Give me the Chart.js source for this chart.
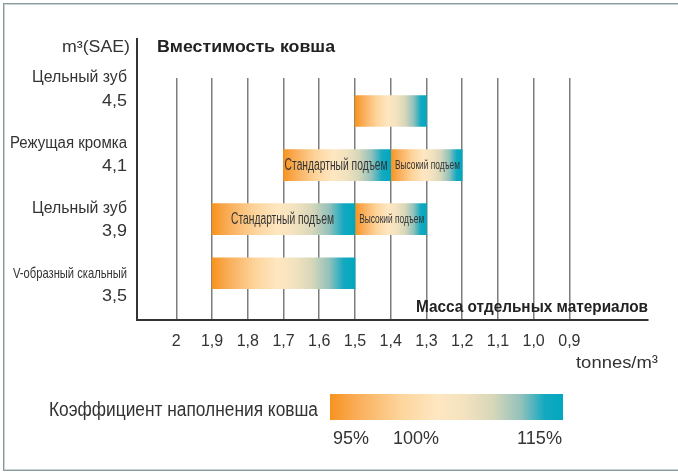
<!DOCTYPE html>
<html>
<head>
<meta charset="utf-8">
<script src="https://cdn.jsdelivr.net/npm/chart.js@4.4.1/dist/chart.umd.min.js"></script>
<style>
  html, body { margin: 0; padding: 0; background: #fff; }
  canvas { display: block; }
</style>
</head>
<body>
<canvas id="myChart" width="678" height="473"></canvas>
<script>
// Rows of the chart, top to bottom
const rowNames = ["Цельный зуб", "Режущая кромка", "Цельный зуб", "V-образный скальный"];
const rowCapacity = ["4,5", "4,1", "3,9", "3,5"];

// Material density ranges (tonnes/m3), [from, to]
const standardRanges = [[1.5, 1.3], [1.7, 1.4], [1.9, 1.5], [1.9, 1.5]];
const standardText = ["", "Стандартный подъем", "Стандартный подъем", ""];
const highRanges = [null, [1.4, 1.2], [1.5, 1.3], null];
const highText = ["", "Высокий подъем", "Высокий подъем", ""];

// X axis ticks
const tickValues = [2, 1.9, 1.8, 1.7, 1.6, 1.5, 1.4, 1.3, 1.2, 1.1, 1.0, 0.9];
const tickLabels = ["2", "1,9", "1,8", "1,7", "1,6", "1,5", "1,4", "1,3", "1,2", "1,1", "1,0", "0,9"];

// Fill factor key
const fillLabels = ["95%", "100%", "115%"];

const FONT = "'Liberation Sans', Arial, sans-serif";
const TEXT = "#333";

const gradStops = [
  [0.00, "#f7931e"],
  [0.10, "#f9aa52"],
  [0.30, "#fdd49b"],
  [0.46, "#fee7c1"],
  [0.58, "#f3e2bf"],
  [0.70, "#d7d7ba"],
  [0.82, "#92c1bc"],
  [0.92, "#14a9c0"],
  [1.00, "#00a7c0"],
];

function makeGradient(ctx, x0, x1) {
  const g = ctx.createLinearGradient(x0, 0, x1, 0);
  gradStops.forEach(s => g.addColorStop(s[0], s[1]));
  return g;
}

function barFill(c) {
  const x = c.chart.scales.x;
  if (!x || !c.raw || !c.chart.chartArea) return "#f7931e";
  const a = x.getPixelForValue(c.raw.x[0]);
  const b = x.getPixelForValue(c.raw.x[1]);
  if (!isFinite(a) || !isFinite(b)) return "#f7931e";
  return makeGradient(c.chart.ctx, Math.min(a, b), Math.max(a, b));
}

function toPoints(ranges) {
  return ranges.map((r, i) => r ? { x: r, y: i } : null).filter(p => p);
}

function fitText(ctx, text, x, y, w, font, align, color) {
  ctx.save();
  ctx.font = font;
  ctx.fillStyle = color || TEXT;
  ctx.textAlign = align || "left";
  ctx.textBaseline = "middle";
  const m = ctx.measureText(text).width;
  const s = w ? w / m : 1;
  ctx.translate(x, y);
  ctx.scale(s, 1);
  ctx.fillText(text, 0, 0);
  ctx.restore();
}

// frame and white background
const framePlugin = {
  id: "frame",
  beforeDraw(chart) {
    const ctx = chart.ctx;
    ctx.save();
    ctx.fillStyle = "#fff";
    ctx.fillRect(0, 0, chart.width, chart.height);
    ctx.strokeStyle = "#8a9999";
    ctx.lineWidth = 1;
    ctx.strokeRect(3.5, 3.5, 700, 467);
    ctx.strokeStyle = "#c9d3d3";
    ctx.strokeRect(4.5, 4.5, 700, 465);
    ctx.restore();
  },
};

// texts inside bars
const barTextPlugin = {
  id: "barText",
  afterDatasetsDraw(chart) {
    const ctx = chart.ctx;
    chart.data.datasets.forEach((ds, di) => {
      const meta = chart.getDatasetMeta(di);
      meta.data.forEach((bar, j) => {
        const row = ds.data[j].y;
        const t = ds.texts[row];
        if (!t) return;
        const cx = (bar.x + bar.base) / 2;
        if (di === 0) fitText(ctx, t, cx - 1, bar.y + 0.5, 103, "16px " + FONT, "center");
        else fitText(ctx, t, cx + 1, bar.y + 0.5, 65, "13px " + FONT, "center");
      });
    });
  },
};

// axis line, titles, row labels and fill factor key
const decorPlugin = {
  id: "decor",
  afterDraw(chart) {
    const ctx = chart.ctx;
    const area = chart.chartArea;
    ctx.save();
    ctx.strokeStyle = "#333";
    ctx.lineWidth = 2;
    ctx.beginPath();
    ctx.moveTo(area.left, 38);
    ctx.lineTo(area.left, area.bottom + 1);
    ctx.stroke();
    ctx.restore();

    fitText(ctx, "m³(SAE)", 130, 48, 68, "16px " + FONT, "right");
    fitText(ctx, "Вместимость ковша", 157, 48, 178, "bold 16px " + FONT, "left", "#222");
    fitText(ctx, "Масса отдельных материалов", 648, 307, 232, "bold 17px " + FONT, "right", "#222");
    fitText(ctx, "tonnes/m³", 658, 363, 82, "17px " + FONT, "right");

    const nameW = [95, 117, 95, 114];
    const nameF = [16, 16, 16, 15];
    rowNames.forEach((n, i) => {
      fitText(ctx, n, 127, 78 + i * 65.3, nameW[i], nameF[i] + "px " + FONT, "right");
      fitText(ctx, rowCapacity[i], 127, 101 + i * 65, 25, "17px " + FONT, "right");
    });

    // fill factor key
    const kx0 = 330, kx1 = 563, ky = 394, kh = 26;
    ctx.save();
    ctx.fillStyle = makeGradient(ctx, kx0, kx1);
    ctx.fillRect(kx0, ky, kx1 - kx0, kh);
    ctx.restore();
    fitText(ctx, "Коэффициент наполнения ковша", 49, 410, 269, "20px " + FONT, "left");
    fitText(ctx, fillLabels[0], 333, 439, 36, "18px " + FONT, "left");
    fitText(ctx, fillLabels[1], 393, 439, 46, "18px " + FONT, "left");
    fitText(ctx, fillLabels[2], 562, 439, 45, "18px " + FONT, "right");
  },
};

new Chart(document.getElementById("myChart"), {
  type: "bar",
  data: {
    datasets: [
      { data: toPoints(standardRanges), texts: standardText, backgroundColor: barFill },
      { data: toPoints(highRanges), texts: highText, backgroundColor: barFill },
    ],
  },
  options: {
    indexAxis: "y",
    responsive: false,
    animation: false,
    devicePixelRatio: 1,
    barThickness: 31,
    layout: { padding: { left: 137, right: 30, top: 78, bottom: 0 } },
    scales: {
      x: {
        type: "linear",
        stacked: false,
        reverse: true,
        min: 0.68,
        max: 2.11,
        afterBuildTicks: (s) => { s.ticks = tickValues.map(v => ({ value: v })); },
        afterFit: (s) => { s.height = 153; },
        grid: { color: "#7d7d7d", lineWidth: 1.5, drawTicks: false },
        border: { display: true, color: "#333", width: 2 },
        ticks: {
          padding: 12,
          color: TEXT,
          font: { family: FONT, size: 16 },
          autoSkip: false,
          maxRotation: 0,
          callback: (v, i) => tickLabels[i],
        },
      },
      y: {
        type: "linear",
        display: false,
        stacked: true,
        reverse: true,
        min: -0.362,
        max: 3.616,
      },
    },
    plugins: { legend: { display: false }, tooltip: { enabled: false } },
  },
  plugins: [framePlugin, barTextPlugin, decorPlugin],
});
</script>
</body>
</html>
